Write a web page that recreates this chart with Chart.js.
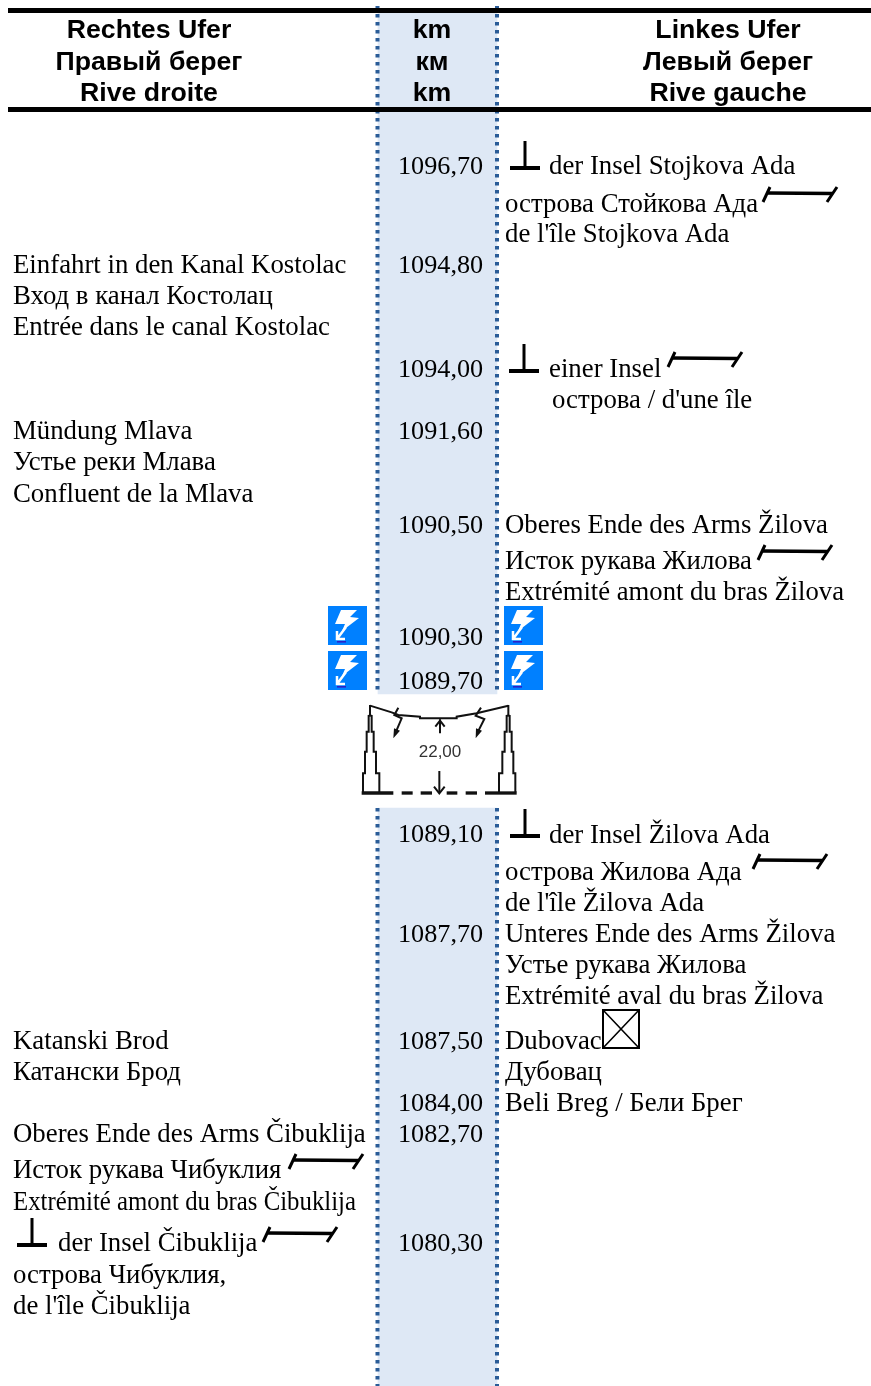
<!DOCTYPE html>
<html>
<head>
<meta charset="utf-8">
<style>
  body { margin: 0; background: #fff; }
  canvas { display: block; }
</style>
<script src="https://cdn.jsdelivr.net/npm/chart.js@4/dist/chart.umd.js"></script>
</head>
<body>
<canvas id="chart" width="871" height="1386"></canvas>
<script>
// --- table content ---
const headerRight = ["Rechtes Ufer", "Правый берег", "Rive droite"];
const headerKm = ["km", "км", "km"];
const headerLeft = ["Linkes Ufer", "Левый берег", "Rive gauche"];
const headerRows = [29, 61, 92];

const kmLabels = ["1096,70", "1094,80", "1094,00", "1091,60", "1090,50", "1090,30", "1089,70", "1089,10", "1087,70", "1087,50", "1084,00", "1082,70", "1080,30"];
const kmRows = [165, 264, 368, 430, 524, 636, 680, 833, 933, 1040, 1102, 1133, 1242];

const rightLabels = ["Einfahrt in den Kanal Kostolac", "Вход в канал Костолац", "Entrée dans le canal Kostolac", "Mündung Mlava", "Устье реки Млава", "Confluent de la Mlava", "Katanski Brod", "Катански Брод", "Oberes Ende des Arms Čibuklija", "Исток рукава Чибуклия", "Extrémité amont du bras Čibuklija", "der Insel Čibuklija", "острова Чибуклия,", "de l'île Čibuklija"];
const rightRows = [264, 295, 326, 430, 461, 493, 1040, 1071, 1133, 1169, 1201, 1242, 1274, 1305];
const rightStart = [13, 13, 13, 13, 13, 13, 13, 13, 13, 13, 13, 58, 13, 13];

const leftLabels = ["der Insel Stojkova Ada", "острова Стойкова Ада", "de l'île Stojkova Ada", "einer Insel", "острова / d'une île", "Oberes Ende des Arms Žilova", "Исток рукава Жилова", "Extrémité amont du bras Žilova", "der Insel Žilova Ada", "острова Жилова Ада", "de l'île Žilova Ada", "Unteres Ende des Arms Žilova", "Устье рукава Жилова", "Extrémité aval du bras Žilova", "Dubovac", "Дубовац", "Beli Breg / Бели Брег"];
const leftRows = [165, 203, 233, 368, 399, 524, 560, 591, 834, 871, 902, 933, 964, 995, 1040, 1071, 1102];
const leftStart = [549, 505, 505, 549, 552, 505, 505, 505, 549, 505, 505, 505, 505, 505, 505, 505, 505];

const clearanceLabel = ["22,00"];
const clearanceAt = [[440, 750]];

// where the symbols sit
const pierAt = [[525, 156], [524, 359], [525, 824], [32, 1233]];
const spanAt = [[800, 195], [705, 360], [795, 553], [790, 862], [326, 1162], [300, 1235]];
const powerIconAt = [[347.5, 625.5], [347.5, 670.5], [523.5, 625.5], [523.5, 670.5]];
const ferryAt = [[621, 1029]];
const powerLineAt = [[439, 751]];

// km column, interrupted where the power line crosses
const bandSpans = [[13, 694], [808, 1386]];
const bandCenter = 437.5;
const edgeLeft = 377.5;
const edgeRight = 497;
const ruleRows = [10.5, 109.5];

// --- symbols used as point styles ---
function makeCanvas(w, h) {
  const c = document.createElement("canvas");
  c.width = w;
  c.height = h;
  return c;
}

function pierSymbol() {
  const c = makeCanvas(34, 34);
  const g = c.getContext("2d");
  g.fillStyle = "#000";
  g.fillRect(2, 27, 30, 4);
  g.fillRect(15.5, 2, 3, 27);
  return c;
}

function spanSymbol() {
  const c = makeCanvas(80, 20);
  const g = c.getContext("2d");
  g.strokeStyle = "#000";
  g.lineWidth = 3.5;
  g.beginPath();
  g.moveTo(7, 8);
  g.lineTo(72, 8.5);
  g.stroke();
  g.lineWidth = 3;
  g.beginPath();
  g.moveTo(10, 2);
  g.lineTo(3, 17);
  g.moveTo(77, 2);
  g.lineTo(67, 17);
  g.stroke();
  return c;
}

function powerIcon() {
  const c = makeCanvas(39, 39);
  const g = c.getContext("2d");
  g.fillStyle = "#0080ff";
  g.fillRect(0, 0, 39, 39);
  g.fillStyle = "#fff";
  g.beginPath();
  g.moveTo(13, 4);
  g.lineTo(29, 4);
  g.lineTo(22, 11);
  g.lineTo(31, 12);
  g.lineTo(14, 25);
  g.lineTo(17, 18);
  g.lineTo(7, 18);
  g.closePath();
  g.fill();
  g.strokeStyle = "#fff";
  g.lineWidth = 2.5;
  g.beginPath();
  g.moveTo(18, 21);
  g.lineTo(9, 33);
  g.moveTo(9, 25);
  g.lineTo(9, 33);
  g.lineTo(17, 33);
  g.stroke();
  g.fillStyle = "#2a20c8";
  g.fillRect(9, 35, 9, 1.6);
  return c;
}

function ferrySymbol() {
  const c = makeCanvas(38, 40);
  const g = c.getContext("2d");
  g.strokeStyle = "#000";
  g.lineWidth = 2;
  g.strokeRect(1, 1, 36, 38);
  g.lineWidth = 1.6;
  g.beginPath();
  g.moveTo(1, 1);
  g.lineTo(37, 39);
  g.moveTo(37, 1);
  g.lineTo(1, 39);
  g.stroke();
  return c;
}

// traced in 3x crop units, scaled down once
function powerLineSymbol() {
  const c = makeCanvas(160, 100);
  const g = c.getContext("2d");
  g.scale(1 / 3, 1 / 3);
  g.translate(-117, -333);
  g.strokeStyle = "#111";
  g.fillStyle = "#111";
  g.lineWidth = 6;
  const poly = (pts) => {
    g.beginPath();
    pts.forEach((p, i) => (i ? g.lineTo(p[0], p[1]) : g.moveTo(p[0], p[1])));
    g.stroke();
  };
  poly([[150, 347], [215, 367], [235, 375], [300, 380], [300, 385], [410, 385], [410, 380], [470, 370], [565, 347]]);
  [0, 1].forEach((side) => {
    const mx = (x) => (side ? 715 - x : x);
    poly([[mx(150), 345], [mx(150), 375]]);
    poly([[mx(146), 375], [mx(146), 425], [mx(140), 425], [mx(140), 485], [mx(135), 485], [mx(135), 550], [mx(129), 550], [mx(129), 607]]);
    poly([[mx(155), 375], [mx(155), 425], [mx(161), 425], [mx(161), 485], [mx(168), 485], [mx(168), 550], [mx(178), 550], [mx(178), 607]]);
    poly([[mx(146), 377], [mx(155), 377]]);
  });
  poly([[235, 353], [223, 375], [245, 385], [228, 425]]);
  poly([[483, 353], [467, 377], [493, 387], [474, 425]]);
  g.beginPath();
  g.moveTo(220, 445); g.lineTo(222, 415); g.lineTo(240, 422); g.closePath();
  g.moveTo(467, 445); g.lineTo(468, 415); g.lineTo(486, 422); g.closePath();
  g.fill();
  poly([[360, 388], [360, 430]]);
  poly([[346, 410], [360, 392], [374, 410]]);
  poly([[358, 543], [358, 608]]);
  poly([[342, 590], [358, 610], [374, 590]]);
  g.lineWidth = 10;
  [[125, 220], [245, 278], [302, 336], [380, 412], [437, 471], [495, 590]].forEach((d) => {
    poly([[d[0], 609], [d[1], 609]]);
  });
  return c;
}

// --- text drawn through the scales ---
const squeezed = { "Extrémité amont du bras Čibuklija": 343, "Extrémité amont du bras Žilova": 339 };

const tableText = {
  id: "tableText",
  afterDatasetsDraw(chart) {
    const ctx = chart.ctx;
    const xs = chart.scales.x;
    const ys = chart.scales.y;
    chart.data.datasets.forEach((ds) => {
      if (!ds.words) return;
      ctx.save();
      ctx.font = ds.font;
      ctx.fillStyle = ds.ink || "#000";
      ctx.textAlign = ds.align || "left";
      ctx.textBaseline = "middle";
      ds.data.forEach((p, i) => {
        const word = ds.words[i];
        const px = xs.getPixelForValue(p.x);
        const py = ys.getPixelForValue(p.y) + 2;
        if (squeezed[word]) ctx.fillText(word, px, py, squeezed[word]);
        else ctx.fillText(word, px, py);
      });
      ctx.restore();
    });
  }
};

const serif = "26.8px 'Liberation Serif'";
const kmFont = "26.2px 'Liberation Serif'";
const bold = "bold 26.7px 'Liberation Sans'";

function textSet(words, rows, starts, font, align, ink) {
  return {
    words, font, align, ink,
    type: "scatter",
    pointRadius: 0,
    order: 1,
    data: rows.map((y, i) => ({ x: Array.isArray(starts) ? starts[i] : starts, y }))
  };
}

function symbolSet(at, image) {
  return {
    type: "scatter",
    pointStyle: image,
    pointRadius: 10,
    order: 2,
    data: at.map((p) => ({ x: p[0], y: p[1] }))
  };
}

function lineSet(points, color, width, dash, order) {
  return {
    type: "scatter",
    showLine: true,
    spanGaps: false,
    pointRadius: 0,
    borderColor: color,
    borderWidth: width,
    borderDash: dash,
    borderCapStyle: "butt",
    order,
    data: points
  };
}

function edgePoints(x) {
  return [
    { x, y: 6 }, { x, y: 694 }, { x: null, y: null },
    { x, y: 808 }, { x, y: 1386 }
  ];
}

const datasets = [
  {
    type: "bar",
    barThickness: 119,
    backgroundColor: "#dee8f5",
    borderWidth: 0,
    grouped: false,
    order: 6,
    data: bandSpans.map((s) => ({ x: bandCenter, y: s }))
  },
  lineSet(edgePoints(edgeLeft), "#2a5c97", 4, [3.5, 4.5], 5),
  lineSet(edgePoints(edgeRight), "#2a5c97", 4, [3.5, 4.5], 5),
  lineSet([{ x: 8, y: ruleRows[0] }, { x: 871, y: ruleRows[0] }], "#000", 5, [], 4),
  lineSet([{ x: 8, y: ruleRows[1] }, { x: 871, y: ruleRows[1] }], "#000", 5, [], 4),
  symbolSet(pierAt, pierSymbol()),
  symbolSet(spanAt, spanSymbol()),
  symbolSet(powerIconAt, powerIcon()),
  symbolSet(ferryAt, ferrySymbol()),
  symbolSet(powerLineAt, powerLineSymbol()),
  textSet(headerRight, headerRows, 149, bold, "center"),
  textSet(headerKm, headerRows, 432, bold, "center"),
  textSet(headerLeft, headerRows, 728, bold, "center"),
  textSet(kmLabels, kmRows, 398, kmFont, "left"),
  textSet(rightLabels, rightRows, rightStart, serif, "left"),
  textSet(leftLabels, leftRows, leftStart, serif, "left"),
  textSet(clearanceLabel, clearanceAt.map((p) => p[1]), clearanceAt[0][0], "17px 'Liberation Sans'", "center", "#333")
];

new Chart(document.getElementById("chart"), {
  type: "scatter",
  data: { datasets },
  options: {
    responsive: false,
    animation: false,
    events: [],
    layout: { padding: 0, autoPadding: false },
    plugins: { legend: { display: false }, tooltip: { enabled: false } },
    scales: {
      x: { type: "linear", min: 0, max: 871, offset: false, display: false },
      y: { type: "linear", min: 0, max: 1386, reverse: true, offset: false, display: false }
    }
  },
  plugins: [tableText]
});
</script>
</body>
</html>
